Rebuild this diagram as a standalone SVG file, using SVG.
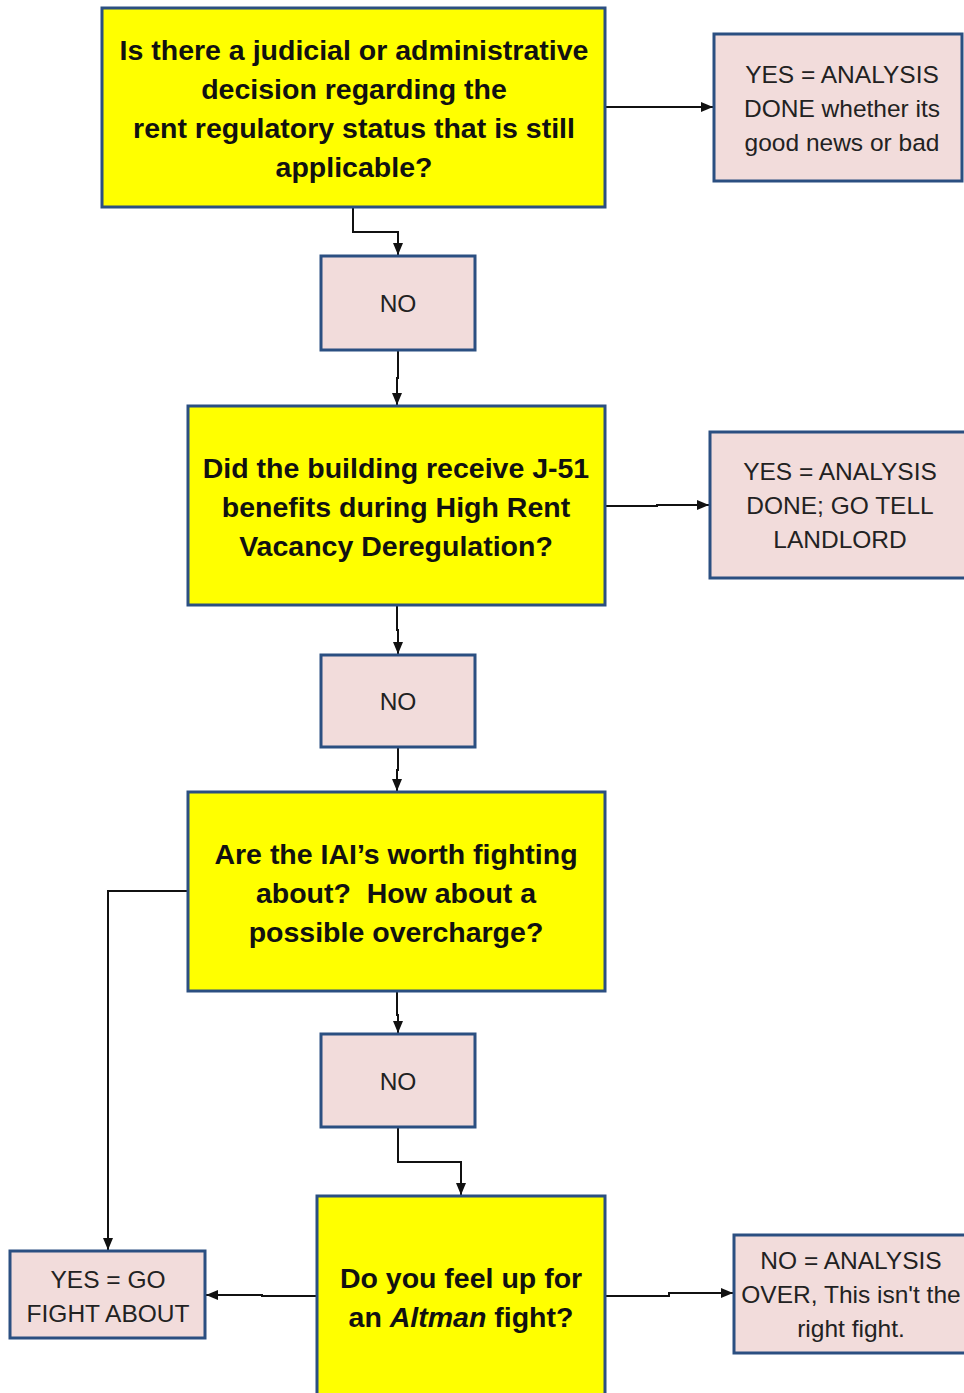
<svg xmlns="http://www.w3.org/2000/svg" width="964" height="1393" viewBox="0 0 964 1393">
<style>
.y{fill:#ffff00;stroke:#2b4f81;stroke-width:3}
.p{fill:#f2dcdb;stroke:#2b4f81;stroke-width:3}
.tb{font-family:"Liberation Sans",Arial,sans-serif;font-weight:bold;font-size:28.5px;fill:#111;text-anchor:middle}
.tr{font-family:"Liberation Sans",Arial,sans-serif;font-size:24.5px;fill:#222;text-anchor:middle}
.c{fill:none;stroke:#111;stroke-width:2}
</style>
<defs>
<marker id="ah" viewBox="0 0 12 10" refX="12" refY="5" markerWidth="12" markerHeight="10" orient="auto" markerUnits="userSpaceOnUse">
<path d="M0,0 L12,5 L0,10 z" fill="#111"/>
</marker>
</defs>
<rect width="964" height="1393" fill="#fff"/>
<g id="connectors">
<path class="c" d="M353,207 V232 H398 V255" marker-end="url(#ah)"/>
<path class="c" d="M398,350 V378 H397 V405" marker-end="url(#ah)"/>
<path class="c" d="M605,107 H713" marker-end="url(#ah)"/>
<path class="c" d="M605,506 H657 V505 H709" marker-end="url(#ah)"/>
<path class="c" d="M397,605 V630 H398 V654" marker-end="url(#ah)"/>
<path class="c" d="M398,747 V770 H397 V791" marker-end="url(#ah)"/>
<path class="c" d="M397,991 V1015 H398 V1033" marker-end="url(#ah)"/>
<path class="c" d="M188,891 H108 V1250" marker-end="url(#ah)"/>
<path class="c" d="M398,1127 V1162 H461 V1195" marker-end="url(#ah)"/>
<path class="c" d="M317,1296 H262 V1295 H206" marker-end="url(#ah)"/>
<path class="c" d="M605,1296 H669 V1293 H733" marker-end="url(#ah)"/>
</g>
<g id="q1">
<rect class="y" x="102" y="8" width="503" height="199"/>
<text class="tb" x="354" y="60">Is there a judicial or administrative</text>
<text class="tb" x="354" y="99">decision regarding the</text>
<text class="tb" x="354" y="138">rent regulatory status that is still</text>
<text class="tb" x="354" y="177">applicable?</text>
</g>
<g id="yes1">
<rect class="p" x="714" y="34" width="248" height="147"/>
<text class="tr" x="842" y="83">YES = ANALYSIS</text>
<text class="tr" x="842" y="117">DONE whether its</text>
<text class="tr" x="842" y="151">good news or bad</text>
</g>
<g id="no1">
<rect class="p" x="321" y="256" width="154" height="94"/>
<text class="tr" x="398" y="312">NO</text>
</g>
<g id="q2">
<rect class="y" x="188" y="406" width="417" height="199"/>
<text class="tb" x="396" y="478">Did the building receive J-51</text>
<text class="tb" x="396" y="517">benefits during High Rent</text>
<text class="tb" x="396" y="556">Vacancy Deregulation?</text>
</g>
<g id="yes2">
<rect class="p" x="710" y="432" width="256" height="146"/>
<text class="tr" x="840" y="480">YES = ANALYSIS</text>
<text class="tr" x="840" y="514">DONE; GO TELL</text>
<text class="tr" x="840" y="548">LANDLORD</text>
</g>
<g id="no2">
<rect class="p" x="321" y="655" width="154" height="92"/>
<text class="tr" x="398" y="710">NO</text>
</g>
<g id="q3">
<rect class="y" x="188" y="792" width="417" height="199"/>
<text class="tb" x="396" y="864">Are the IAI’s worth fighting</text>
<text class="tb" x="396" y="903" style="white-space:pre">about?  How about a</text>
<text class="tb" x="396" y="942">possible overcharge?</text>
</g>
<g id="no3">
<rect class="p" x="321" y="1034" width="154" height="93"/>
<text class="tr" x="398" y="1090">NO</text>
</g>
<g id="q4">
<rect class="y" x="317" y="1196" width="288" height="210"/>
<text class="tb" x="461" y="1288">Do you feel up for</text>
<text class="tb" x="461" y="1327">an <tspan font-style="italic">Altman</tspan> fight?</text>
</g>
<g id="yesgo">
<rect class="p" x="10" y="1251" width="195" height="87"/>
<text class="tr" x="108" y="1288">YES = GO</text>
<text class="tr" x="108" y="1322">FIGHT ABOUT</text>
</g>
<g id="noover">
<rect class="p" x="734" y="1235" width="240" height="118"/>
<text class="tr" x="851" y="1269">NO = ANALYSIS</text>
<text class="tr" x="851" y="1303">OVER, This isn't the</text>
<text class="tr" x="851" y="1337">right fight.</text>
</g>
</svg>
